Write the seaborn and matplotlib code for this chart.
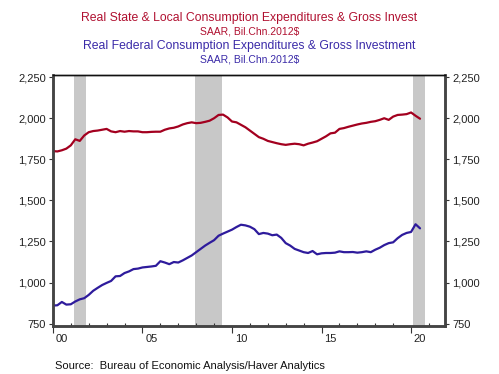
import matplotlib
matplotlib.use("Agg")
import matplotlib.pyplot as plt
import seaborn as sns
import numpy as np
import pandas as pd

# Quarterly data 2000Q1 .. 2020Q3
start_year = 2000
state_local = [
    1800, 1798, 1805, 1815,
    1835, 1872, 1862, 1895,
    1915, 1922, 1925, 1930,
    1935, 1920, 1915, 1922,
    1918, 1922, 1920, 1920,
    1915, 1915, 1917, 1918,
    1918, 1930, 1938, 1942,
    1950, 1962, 1970, 1975,
    1970, 1972, 1978, 1985,
    2000, 2020, 2022, 2005,
    1980, 1975, 1960, 1945,
    1925, 1905, 1885, 1875,
    1862, 1855, 1848, 1842,
    1838, 1842, 1845, 1842,
    1835, 1845, 1852, 1860,
    1875, 1890, 1908, 1912,
    1935, 1940, 1948, 1955,
    1962, 1968, 1972, 1978,
    1982, 1990, 2000, 1990,
    2010, 2020, 2022, 2025,
    2035, 2015, 1997,
]
federal = [
    860, 862, 882, 866,
    868, 885, 898, 905,
    925, 950, 968, 985,
    998, 1010, 1038, 1040,
    1058, 1068, 1082, 1085,
    1092, 1095, 1098, 1102,
    1130, 1122, 1112, 1125,
    1122, 1135, 1150, 1165,
    1185, 1205, 1225, 1242,
    1258, 1285, 1298, 1310,
    1322, 1338, 1352, 1348,
    1340, 1325, 1295, 1302,
    1298, 1288, 1292, 1272,
    1240, 1225, 1205, 1195,
    1185, 1180, 1192, 1172,
    1178, 1180, 1180, 1182,
    1190, 1185, 1185, 1186,
    1182, 1185, 1190, 1185,
    1200, 1212, 1228, 1240,
    1245, 1270, 1290, 1302,
    1308, 1355, 1330,
]
recessions = [(2001.17, 2001.85), (2007.95, 2009.45), (2020.1, 2020.75)]
y_ticks = [750, 1000, 1250, 1500, 1750, 2000, 2250]
x_label_years = [2000, 2005, 2010, 2015, 2020]
x_labels = ["00", "05", "10", "15", "20"]

RED = "#A3001F"
BLUE = "#2E1B9C"
RED_T = "#B01030"
BLUE_T = "#3A2AA8"

t = [start_year + i / 4 for i in range(len(state_local))]
df = pd.DataFrame({"t": t, "sl": state_local, "fed": federal})

sns.set_theme(style="white")
plt.rcParams["font.family"] = ["Liberation Sans", "DejaVu Sans"]

fig = plt.figure(figsize=(4.99, 3.74), dpi=100)
ax = fig.add_axes([0.106, 0.128, 0.786, 0.671])

for a, b in recessions:
    ax.axvspan(a, b, color="#C8C8C8", lw=0, zorder=0)

sns.lineplot(data=df, x="t", y="sl", ax=ax, color=RED, lw=1.6, zorder=3)
sns.lineplot(data=df, x="t", y="fed", ax=ax, color=BLUE, lw=1.6, zorder=3)

ax.set_xlim(2000, 2021.9)
ax.set_ylim(735, 2262)
ax.set_xlabel("")
ax.set_ylabel("")
ax.set_yticks(y_ticks)
ax.set_yticklabels([f"{v:,}" for v in y_ticks])
ax.tick_params(axis="y", direction="out", length=3, width=0.8, color="#333333",
               labelsize=8, pad=2, colors="#222222", left=True)

# x labels placed mid-year, ticks at year starts via secondary axis
ax.set_xticks([y + 0.5 for y in x_label_years])
ax.set_xticklabels(x_labels)
ax.tick_params(axis="x", length=0, labelsize=8, pad=6, colors="#222222")
sec = ax.secondary_xaxis("bottom")
sec.set_xticks(x_label_years)
sec.set_xticks(list(range(2000, 2022)), minor=True)
sec.set_xticklabels([])
sec.tick_params(axis="x", which="major", direction="out", length=5, width=0.8, color="#333333")
sec.tick_params(axis="x", which="minor", direction="in", length=2.5, width=0.8, color="#333333")
sec.spines["bottom"].set_visible(False)

ax2 = ax.twinx()
ax2.set_ylim(ax.get_ylim())
ax2.set_yticks(y_ticks)
ax2.set_yticklabels([f"{v:,}" for v in y_ticks])
ax2.tick_params(axis="y", direction="out", length=3, width=0.8, color="#333333",
                labelsize=8, pad=2, colors="#222222", right=True)
ax2.grid(False)

for a_ in (ax, ax2):
    for s in ("left", "right", "bottom"):
        a_.spines[s].set_color("#444444")
        a_.spines[s].set_linewidth(1.8)
    a_.spines["top"].set_color("#111111")
    a_.spines["top"].set_linewidth(1.0)
ax.grid(False)

fig.text(0.5, 0.953, "Real State & Local Consumption Expenditures & Gross Invest",
         ha="center", va="center", color=RED_T, fontsize=8.8)
fig.text(0.5, 0.917, "SAAR, Bil.Chn.2012$", ha="center", va="center", color=RED_T, fontsize=7.5)
fig.text(0.5, 0.877, "Real Federal Consumption Expenditures & Gross Investment",
         ha="center", va="center", color=BLUE_T, fontsize=8.8)
fig.text(0.5, 0.840, "SAAR, Bil.Chn.2012$", ha="center", va="center", color=BLUE_T, fontsize=7.5)
fig.text(0.110, 0.021, "Source:  Bureau of Economic Analysis/Haver Analytics",
         ha="left", va="center", color="#111111", fontsize=8)

fig.savefig("out.png", dpi=100)
